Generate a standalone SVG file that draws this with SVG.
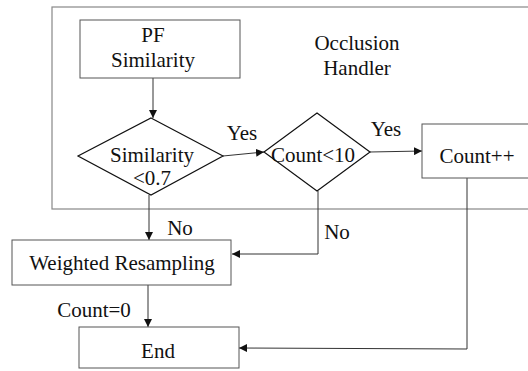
<svg xmlns="http://www.w3.org/2000/svg" width="528" height="371" viewBox="0 0 528 371" font-family="'Liberation Serif', 'Times New Roman', serif">
<style>
.box{fill:#fff;stroke:#555;stroke-width:1}
.frame{fill:none;stroke:#888;stroke-width:1.2}
.dia{fill:#fff;stroke:#111;stroke-width:1.2}
.ln{fill:none;stroke:#333;stroke-width:1}
text{font-family:'Liberation Serif','Times New Roman',serif;font-size:21px;fill:#111;text-anchor:middle}
</style>
<defs>
<marker id="ah" viewBox="0 0 10 10" refX="10" refY="5" markerWidth="8" markerHeight="8" markerUnits="userSpaceOnUse" orient="auto">
<path d="M0,0 L10,5 L0,10 z" fill="#111"/>
</marker>
</defs>
<g id="frame">
<rect class="frame" x="52" y="7" width="500" height="202"/>
<text x="357" y="50">Occlusion</text>
<text x="357" y="75">Handler</text>
</g>
<g id="connectors">
<line class="ln" x1="153" y1="78" x2="153" y2="118" marker-end="url(#ah)"/>
<line class="ln" x1="223" y1="156" x2="264" y2="152" marker-end="url(#ah)"/>
<line class="ln" x1="370" y1="152" x2="422" y2="151" marker-end="url(#ah)"/>
<line class="ln" x1="149" y1="195" x2="149" y2="240" marker-end="url(#ah)"/>
<polyline class="ln" points="318,191 318,254 232,254" marker-end="url(#ah)"/>
<line class="ln" x1="148" y1="285" x2="148" y2="327" marker-end="url(#ah)"/>
<polyline class="ln" points="467,178 467,349 239,348" marker-end="url(#ah)"/>
<text x="242" y="140">Yes</text>
<text x="386" y="136">Yes</text>
<text x="180" y="235">No</text>
<text x="337" y="239">No</text>
<text x="94" y="317">Count=0</text>
</g>
<g id="pf">
<rect class="box" x="80" y="20" width="160" height="58"/>
<text x="153" y="42">PF</text>
<text x="153" y="67">Similarity</text>
</g>
<g id="sim">
<polygon class="dia" points="151,118 223,156 151,195 78,156"/>
<text x="152" y="162">Similarity</text>
<text x="152" y="185">&lt;0.7</text>
</g>
<g id="cnt">
<polygon class="dia" points="317,113 370,152 317,191 264,152"/>
<text x="313" y="162">Count&lt;10</text>
</g>
<g id="inc">
<rect class="box" x="422" y="124" width="120" height="54"/>
<text x="477" y="163">Count++</text>
</g>
<g id="wr">
<rect class="box" x="12" y="240" width="219" height="45"/>
<text x="122" y="270">Weighted Resampling</text>
</g>
<g id="end">
<rect class="box" x="79" y="327" width="160" height="41"/>
<text x="158" y="358">End</text>
</g>
</svg>
